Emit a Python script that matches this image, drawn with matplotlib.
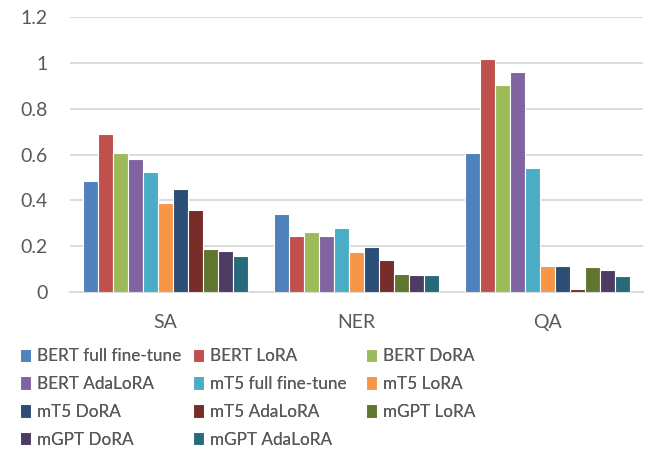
import matplotlib
matplotlib.use("Agg")
import matplotlib.pyplot as plt
import numpy as np

categories = ["SA", "NER", "QA"]
series_names = ["BERT full fine-tune", "BERT LoRA", "BERT DoRA", "BERT AdaLoRA",
                "mT5 full fine-tune", "mT5 LoRA", "mT5 DoRA", "mT5 AdaLoRA",
                "mGPT LoRA", "mGPT DoRA", "mGPT AdaLoRA"]
values = {
    "BERT full fine-tune": [0.485, 0.342, 0.605],
    "BERT LoRA":           [0.690, 0.245, 1.016],
    "BERT DoRA":           [0.605, 0.262, 0.902],
    "BERT AdaLoRA":        [0.579, 0.245, 0.962],
    "mT5 full fine-tune":  [0.523, 0.281, 0.539],
    "mT5 LoRA":            [0.389, 0.176, 0.115],
    "mT5 DoRA":            [0.451, 0.195, 0.115],
    "mT5 AdaLoRA":         [0.360, 0.141, 0.014],
    "mGPT LoRA":           [0.186, 0.080, 0.108],
    "mGPT DoRA":           [0.178, 0.076, 0.097],
    "mGPT AdaLoRA":        [0.157, 0.073, 0.072],
}
colors = ["#4F81BD", "#C0504D", "#9BBB59", "#8064A2", "#4BACC6", "#F79646",
          "#2C4D75", "#772C2A", "#5F7530", "#4D3B62", "#276A7C"]
yticks = [0, 0.2, 0.4, 0.6, 0.8, 1.0, 1.2]
ytick_labels = ["0", "0.2", "0.4", "0.6", "0.8", "1", "1.2"]

plt.rcParams['font.family'] = ['Lato', 'DejaVu Sans']
text_color = "#595959"

fig = plt.figure(figsize=(6.52, 4.5), dpi=100)
ax = fig.add_axes([70/652, 1 - 292/450, 573/652, 275/450])

x = np.arange(len(categories))
n = len(series_names)
slot = 0.864 / n
handles = []
for i, name in enumerate(series_names):
    offs = (i - (n - 1) / 2) * slot
    b = ax.bar(x + offs, values[name], width=slot, color=colors[i],
               edgecolor="white", linewidth=0.8, label=name, zorder=3)
    handles.append(b)

ax.set_xlim(-0.5, 2.5)
ax.set_ylim(0, 1.2)
ax.set_yticks(yticks)
ax.set_yticklabels(ytick_labels)
ax.set_xticks(x)
ax.set_xticklabels(categories)
ax.yaxis.grid(True, color="#D9D9D9", linewidth=1.3, zorder=0)
ax.set_axisbelow(True)
for s in ["top", "right", "left"]:
    ax.spines[s].set_visible(False)
ax.spines["bottom"].set_color("#D9D9D9")
ax.spines["bottom"].set_linewidth(1.3)
ax.tick_params(axis="both", length=0, labelsize=14, colors=text_color)
ax.tick_params(axis="y", pad=16)
ax.tick_params(axis="x", pad=16)

# legend: three columns placed at fixed positions, filled row-wise
col_x = [20, 193, 366]
ncol = 3
for c in range(ncol):
    idx = list(range(c, n, ncol))
    leg = fig.legend([handles[k] for k in idx], [series_names[k] for k in idx],
                     ncol=1, loc="upper left",
                     bbox_to_anchor=(col_x[c] / 652, 1 - 348 / 450),
                     frameon=False, fontsize=12.3, handlelength=0.65,
                     handleheight=0.8, handletextpad=0.35, labelspacing=0.7,
                     borderaxespad=0, borderpad=0)
    for t in leg.get_texts():
        t.set_color(text_color)
    fig.add_artist(leg)

fig.savefig("out.png", dpi=100)
